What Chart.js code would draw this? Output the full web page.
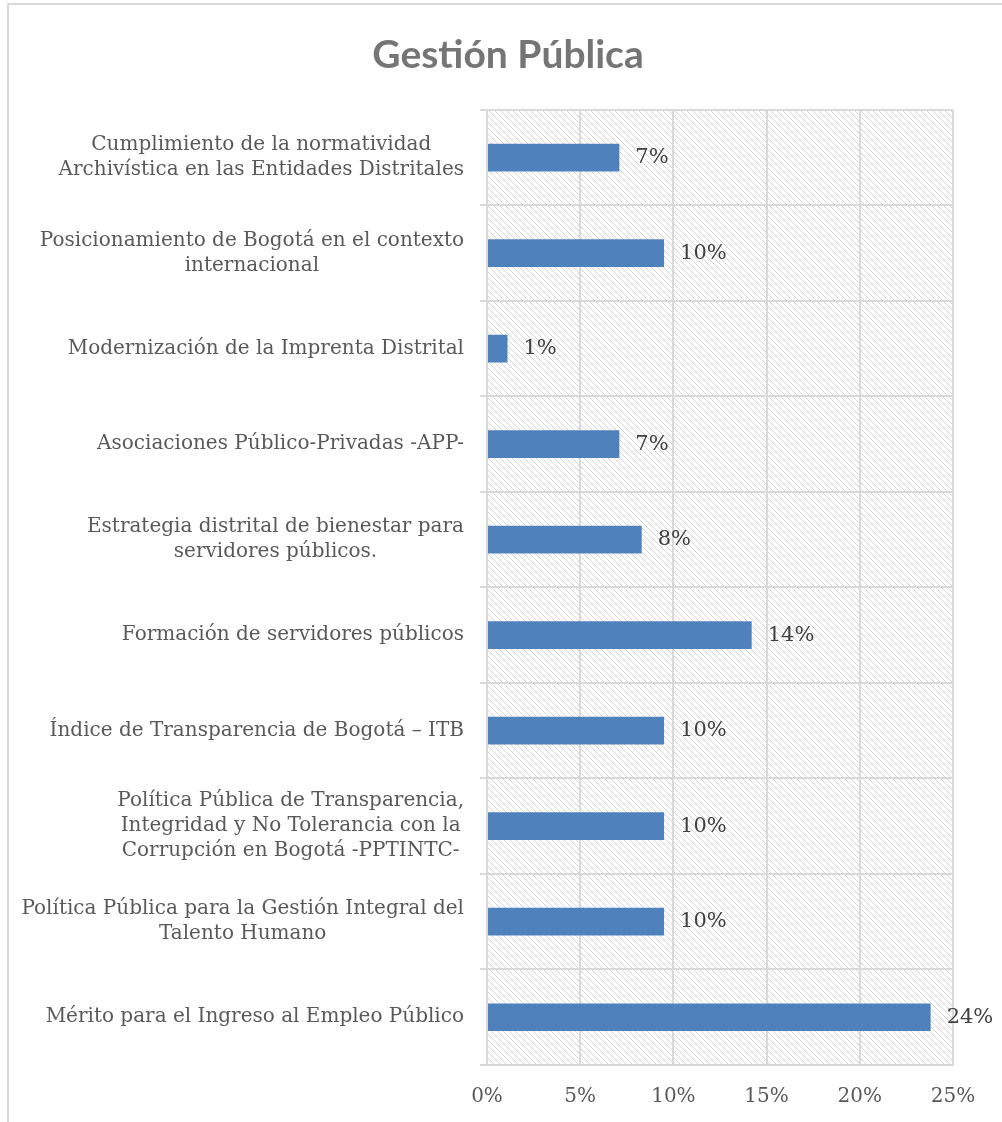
<!DOCTYPE html>
<html>
<head>
<meta charset="utf-8">
<script src="https://cdn.jsdelivr.net/npm/chart.js@4/dist/chart.umd.min.js"></script>
<style>
  body { margin: 0; background: #fff; overflow: hidden; }
  #frame { position: absolute; left: 7px; top: 3px; width: 1100px; height: 1200px; border: 2px solid #d9d9d9; }
  #chart { position: absolute; left: 0; top: 0; }
</style>
</head>
<body>
<div id="frame"></div>
<canvas id="chart" width="1002" height="1122"></canvas>
<script>
const categories = [
  ['Cumplimiento de la normatividad', 'Archivística en las Entidades Distritales'],
  ['Posicionamiento de Bogotá en el contexto', 'internacional'],
  'Modernización de la Imprenta Distrital',
  'Asociaciones Público-Privadas -APP-',
  ['Estrategia distrital de bienestar para', 'servidores públicos.'],
  'Formación de servidores públicos',
  'Índice de Transparencia de Bogotá – ITB',
  ['Política Pública de Transparencia,', 'Integridad y No Tolerancia con la', 'Corrupción en Bogotá -PPTINTC-'],
  ['Política Pública para la Gestión Integral del', 'Talento Humano'],
  'Mérito para el Ingreso al Empleo Público'
];
const shares = [7.1, 9.5, 1.1, 7.1, 8.3, 14.2, 9.5, 9.5, 9.5, 23.8];
const axisTicks = [0, 5, 10, 15, 20, 25];

const labelFont = "'DejaVu Serif', serif";

// Excel-style wide downward diagonal, pixel stepped
function hatchPattern(ctx) {
  const p = document.createElement('canvas');
  p.width = 6; p.height = 6;
  const c = p.getContext('2d');
  c.fillStyle = '#d5d5d5';
  for (let i = 0; i < 6; i++) c.fillRect(i, i, 1, 1);
  return ctx.createPattern(p, 'repeat');
}

const hatchBg = {
  id: 'hatchBg',
  beforeDraw(chart) {
    const { ctx, chartArea: a } = chart;
    ctx.save();
    ctx.fillStyle = hatchPattern(ctx);
    ctx.fillRect(a.left, a.top, a.right - a.left, a.bottom - a.top);
    ctx.restore();
  }
};

// category labels: block right aligned to the axis, lines centred inside the block
const catLabels = {
  id: 'catLabels',
  afterDraw(chart) {
    const ctx = chart.ctx;
    const y = chart.scales.y;
    const right = chart.chartArea.left - 23;
    ctx.save();
    ctx.font = '20px ' + labelFont;
    ctx.fillStyle = '#595959';
    ctx.textBaseline = 'middle';
    ctx.textAlign = 'center';
    categories.forEach((lab, i) => {
      const lines = Array.isArray(lab) ? lab : [lab];
      const w = Math.max(...lines.map(l => ctx.measureText(l).width));
      const cx = right - w / 2;
      const cy = y.getPixelForTick(i);
      lines.forEach((l, k) => {
        ctx.fillText(l, cx, cy + (k - (lines.length - 1) / 2) * 25);
      });
    });
    ctx.restore();
  }
};

const valueLabels = {
  id: 'valueLabels',
  afterDatasetsDraw(chart) {
    const ctx = chart.ctx;
    const meta = chart.getDatasetMeta(0);
    ctx.save();
    ctx.font = '21px ' + labelFont;
    ctx.fillStyle = '#404040';
    ctx.textBaseline = 'middle';
    ctx.textAlign = 'left';
    meta.data.forEach((bar, i) => {
      ctx.fillText(Math.round(shares[i]) + '%', bar.x + 16, bar.y);
    });
    ctx.restore();
  }
};

new Chart(document.getElementById('chart'), {
  type: 'bar',
  data: {
    labels: categories,
    datasets: [{
      data: shares,
      backgroundColor: '#4f81bd',
      barPercentage: 0.29,
      categoryPercentage: 1
    }]
  },
  options: {
    indexAxis: 'y',
    responsive: false,
    animation: false,
    layout: { padding: { left: 14, right: 0, top: 0, bottom: 12 } },
    plugins: {
      legend: { display: false },
      tooltip: { enabled: false },
      title: {
        display: true,
        text: 'Gestión Pública',
        color: '#757575',
        font: { family: 'Lato', size: 39, weight: 'bold' },
        padding: { top: 32, bottom: 31 }
      }
    },
    scales: {
      x: {
        min: 0,
        max: 25,
        afterBuildTicks(scale) { scale.ticks = axisTicks.map(v => ({ value: v })); },
        afterFit(scale) { scale.height = 45; },
        ticks: {
          callback: v => v + '%',
          color: '#595959',
          font: { family: labelFont, size: 20 },
          padding: 20
        },
        grid: { color: '#d9d9d9', lineWidth: 2, drawTicks: false },
        border: { color: '#d9d9d9', width: 2 }
      },
      y: {
        afterFit(scale) { scale.width = 473; },
        ticks: { display: false },
        grid: { color: '#d9d9d9', lineWidth: 2, offset: true, tickLength: 7 },
        border: { color: '#d9d9d9', width: 2 }
      },
      // empty right gutter so the title centres on the whole frame
      gutter: {
        axis: 'y',
        type: 'linear',
        position: 'right',
        afterFit(scale) { scale.width = 49; },
        ticks: { display: false },
        grid: { display: false },
        border: { display: false }
      }
    }
  },
  plugins: [hatchBg, catLabels, valueLabels]
});
</script>
</body>
</html>
